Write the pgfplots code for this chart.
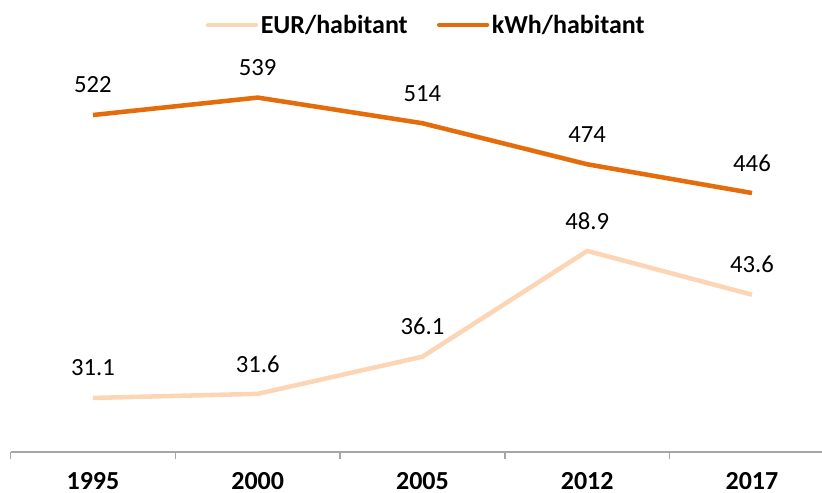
\documentclass[border=0pt]{standalone}
\usepackage{pgfplots}
\pgfplotsset{compat=1.18}
\usepackage{fontspec}
\setmainfont{Carlito}
\definecolor{kwhc}{HTML}{E46C0A}
\definecolor{eurc}{HTML}{FCD5B5}
\definecolor{axc}{HTML}{A6A6A6}
\newcommand{\bigf}{\fontsize{18.5}{22}\selectfont}
\newcommand{\bigb}{\fontsize{19.5}{23}\selectfont\bfseries}
\begin{document}
\begin{tikzpicture}[font=\bigf]
\useasboundingbox (0,0) rectangle (616.5pt,369.75pt);
\begin{axis}[
  at={(7.95pt,30.75pt)}, anchor=south west,
  scale only axis, width=608.55pt, height=312.75pt,
  xmin=-0.5, xmax=4.425, ymin=24.56, ymax=75.04,
  axis y line=none, axis x line*=bottom,
  x axis line style={-, draw=axc, line width=1pt},
  xtick={0,1,2,3,4},
  xticklabels={1995,2000,2005,2012,2017},
  major tick length=0pt,
  tick align=outside,
  extra x ticks={-0.5,0.5,1.5,2.5,3.5},
  extra x tick labels={},
  extra x tick style={major tick length=5.5pt, tick style={draw=axc, line width=1pt}},
  xticklabel style={font=\bigb, anchor=center, inner sep=0pt, yshift=-21.5pt},
  clip=false,
  legend columns=2,
  legend style={at={(0.5126,1.024)}, anchor=center, draw=none, fill=none, font=\bigb,
    /tikz/every even column/.append style={column sep=20pt}},
  legend image code/.code={\draw[#1, line width=3.2pt, line cap=round] (0pt,0pt) -- (36pt,0pt);},
  point meta=explicit symbolic,
  nodes near coords,
  nodes near coords style={font=\bigf, anchor=center, yshift=22.5pt, text=black},
]
\addplot[eurc, line width=3.4pt, mark=none] coordinates {
  (0,31.1) [31.1] (1,31.6) [31.6] (2,36.1) [36.1] (3,48.9) [48.9] (4,43.6) [43.6]
};
\addlegendentry{EUR/habitant}
\addlegendimage{kwhc}
\addlegendentry{kWh/habitant}
\end{axis}
\begin{axis}[
  at={(7.95pt,30.75pt)}, anchor=south west,
  scale only axis, width=608.55pt, height=312.75pt,
  xmin=-0.5, xmax=4.425, ymin=193.6, ymax=600,
  axis lines=none, ticks=none,
  clip=false,
  point meta=explicit symbolic,
  nodes near coords,
  nodes near coords style={font=\bigf, anchor=center, yshift=22.5pt, text=black},
]
\addplot[kwhc, line width=3.4pt, mark=none] coordinates {
  (0,522) [522] (1,539) [539] (2,514) [514] (3,474) [474] (4,446) [446]
};
\end{axis}
\end{tikzpicture}
\end{document}
